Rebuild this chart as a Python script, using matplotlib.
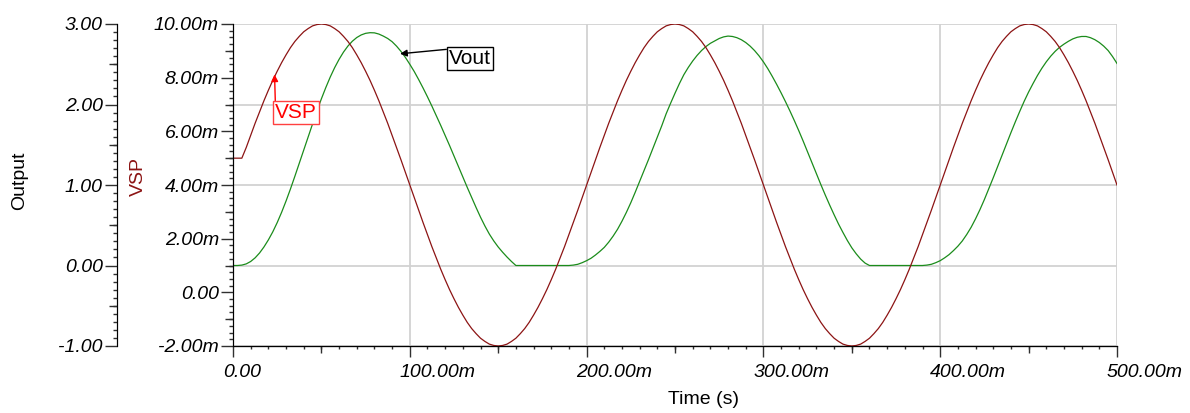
import numpy as np
import matplotlib
matplotlib.use('Agg')
import matplotlib.pyplot as plt
import matplotlib.transforms as mtransforms
from matplotlib.ticker import MultipleLocator, FuncFormatter

plt.rcParams['font.family'] = ['Liberation Sans', 'DejaVu Sans']

# time samples, 2.5 ms apart, 0 .. 500 ms
time_s = np.arange(201) * 0.0025

# VSP in mV
vsp_mv = [5.00, 5.00, 5.00, 5.40, 5.85, 6.30, 6.72, 7.14, 7.53, 7.90, 8.24,
          8.56, 8.85, 9.12, 9.35, 9.54, 9.71, 9.83, 9.93, 9.98, 10.00,
          9.98, 9.93, 9.83, 9.71, 9.54, 9.35, 9.12, 8.85, 8.56, 8.24,
          7.90, 7.53, 7.14, 6.72, 6.30, 5.85, 5.40, 4.94, 4.47, 4.00,
          3.53, 3.06, 2.60, 2.15, 1.70, 1.28, 0.86, 0.47, 0.10, -0.24,
          -0.56, -0.85, -1.12, -1.35, -1.54, -1.71, -1.83, -1.93, -1.98, -2.00,
          -1.98, -1.93, -1.83, -1.71, -1.54, -1.35, -1.12, -0.85, -0.56, -0.24,
          0.10, 0.47, 0.86, 1.28, 1.70, 2.15, 2.60, 3.06, 3.53, 4.00,
          4.47, 4.94, 5.40, 5.85, 6.30, 6.72, 7.14, 7.53, 7.90, 8.24,
          8.56, 8.85, 9.12, 9.35, 9.54, 9.71, 9.83, 9.93, 9.98, 10.00,
          9.98, 9.93, 9.83, 9.71, 9.54, 9.35, 9.12, 8.85, 8.56, 8.24,
          7.90, 7.53, 7.14, 6.72, 6.30, 5.85, 5.40, 4.94, 4.47, 4.00,
          3.53, 3.06, 2.60, 2.15, 1.70, 1.28, 0.86, 0.47, 0.10, -0.24,
          -0.56, -0.85, -1.12, -1.35, -1.54, -1.71, -1.83, -1.93, -1.98, -2.00,
          -1.98, -1.93, -1.83, -1.71, -1.54, -1.35, -1.12, -0.85, -0.56, -0.24,
          0.10, 0.47, 0.86, 1.28, 1.70, 2.15, 2.60, 3.06, 3.53, 4.00,
          4.47, 4.94, 5.40, 5.85, 6.30, 6.72, 7.14, 7.53, 7.90, 8.24,
          8.56, 8.85, 9.12, 9.35, 9.54, 9.71, 9.83, 9.93, 9.98, 10.00,
          9.98, 9.93, 9.83, 9.71, 9.54, 9.35, 9.12, 8.85, 8.56, 8.24,
          7.90, 7.53, 7.14, 6.72, 6.30, 5.85, 5.40, 4.94, 4.47, 4.00]

# Vout (Output axis)
vout = [0.000, 0.000, 0.005, 0.020, 0.050, 0.095, 0.155, 0.230, 0.318, 0.418,
        0.533, 0.661, 0.801, 0.951, 1.109, 1.272, 1.437, 1.602, 1.764, 1.921,
        2.071, 2.211, 2.341, 2.458, 2.561, 2.651, 2.726, 2.786, 2.832, 2.864,
        2.884, 2.892, 2.890, 2.875, 2.850, 2.820, 2.780, 2.725, 2.660, 2.585,
        2.500, 2.410, 2.310, 2.205, 2.095, 1.980, 1.860, 1.740, 1.615, 1.490,
        1.360, 1.230, 1.100, 0.970, 0.845, 0.720, 0.600, 0.490, 0.390, 0.305,
        0.230, 0.165, 0.105, 0.050, 0.000,
        0.0, 0.0, 0.0, 0.0, 0.0, 0.0, 0.0, 0.0, 0.0, 0.0, 0.0, 0.0,
        0.005, 0.015, 0.035, 0.060, 0.090, 0.130, 0.175, 0.225, 0.290, 0.365,
        0.450, 0.550, 0.660, 0.780, 0.910, 1.045, 1.180, 1.315, 1.455, 1.595,
        1.735, 1.885, 2.015, 2.140, 2.260, 2.370, 2.460, 2.540, 2.610, 2.670,
        2.720, 2.760, 2.790, 2.820, 2.840, 2.850, 2.845, 2.830, 2.805, 2.770,
        2.725, 2.670, 2.605, 2.530, 2.445, 2.350, 2.250, 2.145, 2.035, 1.920,
        1.800, 1.675, 1.545, 1.410, 1.275, 1.140, 1.005, 0.875, 0.750, 0.630,
        0.515, 0.410, 0.310, 0.220, 0.145, 0.080, 0.030, 0.000,
        0.0, 0.0, 0.0, 0.0, 0.0, 0.0, 0.0, 0.0, 0.0, 0.0, 0.0, 0.0,
        0.005, 0.015, 0.035, 0.060, 0.095, 0.135, 0.185, 0.240, 0.305, 0.385,
        0.475, 0.580, 0.695, 0.820, 0.955, 1.090, 1.230, 1.370, 1.510, 1.650,
        1.785, 1.915, 2.040, 2.155, 2.260, 2.360, 2.450, 2.530, 2.600, 2.660,
        2.710, 2.750, 2.785, 2.815, 2.835, 2.845, 2.845, 2.830, 2.805, 2.770,
        2.725, 2.670, 2.595, 2.510]

vsp = np.array(vsp_mv) * 1e-3

RED = '#8c1414'
GREEN = '#1b8c1b'
TICKC = '#303030'
FS = 14


def milli(v, pos):
    if abs(v) < 1e-12:
        return '0.00'
    return '%.2fm' % (v * 1000)


fig = plt.figure(figsize=(11.9, 4.13), dpi=100)
ax = fig.add_axes([233/1190, 67/413, 884/1190, 322/413])   # Output axis (green)
axv = ax.twinx()                                            # VSP axis (red)

out_pos = (117 - 233) / 884

# ---- Output axis
ax.set_ylim(-1, 3)
ax.set_xlim(0, 0.5)
ax.spines['left'].set_position(('axes', out_pos))
ax.spines['top'].set_visible(False)
ax.spines['right'].set_visible(False)
ax.yaxis.set_major_locator(MultipleLocator(1))
ax.yaxis.set_minor_locator(MultipleLocator(0.1))
ax.yaxis.set_major_formatter(FuncFormatter(lambda v, p: '%.2f' % v))
ax.tick_params(axis='y', which='major', length=8.6, width=1, color=TICKC,
               labelsize=FS, pad=1.5)
ax.tick_params(axis='y', which='minor', length=2.9, width=1, color=TICKC)
sec = ax.secondary_yaxis(out_pos)
sec.set_yticks([-0.5, 0.5, 1.5, 2.5])
sec.tick_params(length=5.5, width=1, color=TICKC, labelleft=False)

# ---- time axis
ax.xaxis.set_major_locator(MultipleLocator(0.1))
ax.xaxis.set_minor_locator(MultipleLocator(0.01))
ax.xaxis.set_major_formatter(FuncFormatter(milli))
ax.tick_params(axis='x', which='major', length=8, width=1, color=TICKC,
               labelsize=FS, pad=5)
ax.tick_params(axis='x', which='minor', length=2.5, width=1, color=TICKC)
secx = ax.secondary_xaxis(0)
secx.set_xticks([0.05, 0.15, 0.25, 0.35, 0.45])
secx.tick_params(length=5, width=1, color=TICKC, labelbottom=False)

# time labels start a little left of their tick
shift = mtransforms.ScaledTranslation(-0.10, 0, fig.dpi_scale_trans)
for lab in ax.xaxis.get_majorticklabels():
    lab.set_horizontalalignment('left')
    lab.set_transform(lab.get_transform() + shift)

for lab in ax.get_xticklabels() + ax.get_yticklabels():
    lab.set_style('italic')

ax.grid(True, which='major', color='#d2d2d2', lw=1.3)
ax.set_axisbelow(True)

ax.plot(time_s, vout, color=GREEN, lw=0.9)

# ---- VSP axis
axv.set_ylim(-0.002, 0.010)
axv.yaxis.set_ticks_position('left')
axv.yaxis.set_label_position('left')
axv.spines['left'].set_visible(True)
axv.spines['left'].set_position(('axes', 0))
axv.spines['right'].set_visible(False)
axv.spines['top'].set_visible(False)
axv.yaxis.set_major_locator(MultipleLocator(0.002))
axv.yaxis.set_minor_locator(MultipleLocator(0.00025))
axv.yaxis.set_major_formatter(FuncFormatter(milli))
axv.tick_params(axis='y', which='major', length=8.6, width=1, color=TICKC,
                labelsize=FS, pad=1.5)
axv.tick_params(axis='y', which='minor', length=2.9, width=1, color=TICKC)
secv = axv.secondary_yaxis(0)
secv.set_yticks([-0.001, 0.001, 0.003, 0.005, 0.007, 0.009])
secv.tick_params(length=5.5, width=1, color=TICKC, labelleft=False)
for lab in axv.get_yticklabels():
    lab.set_style('italic')

axv.plot(time_s, vsp, color=RED, lw=0.9)

# axis titles
ax.set_xlabel('Time (s)', fontsize=FS)
ax.xaxis.set_label_coords((704 - 233) / 884, (346 - 391) / 322)
ax.set_ylabel('Output', fontsize=FS)
ax.yaxis.set_label_coords((28 - 233) / 884, (346 - 181) / 322)
axv.set_ylabel('VSP', fontsize=FS, color=RED)
axv.yaxis.set_label_coords((147 - 233) / 884, (346 - 177) / 322)

# curve labels
axv.annotate('VSP', xy=(0.0235, 0.00812), xytext=(0.0358, 0.00669),
             fontsize=15, color='#ff0000', ha='center', va='center',
             bbox=dict(boxstyle='square,pad=0.1', fc='white', ec='#ff4040', lw=1),
             arrowprops=dict(arrowstyle='-|>', color='#ff0000', lw=1,
                             relpos=(0, 1), shrinkA=0, shrinkB=0,
                             mutation_scale=10))
ax.annotate('Vout', xy=(0.0945, 2.63), xytext=(0.134, 2.57),
            fontsize=15, color='black', ha='center', va='center',
            bbox=dict(boxstyle='square,pad=0.1', fc='white', ec='black', lw=1),
            arrowprops=dict(arrowstyle='-|>', color='black', lw=1,
                            relpos=(0, 1), shrinkA=0, shrinkB=0,
                            mutation_scale=10),
            zorder=5)

fig.savefig('out.png', dpi=100)
